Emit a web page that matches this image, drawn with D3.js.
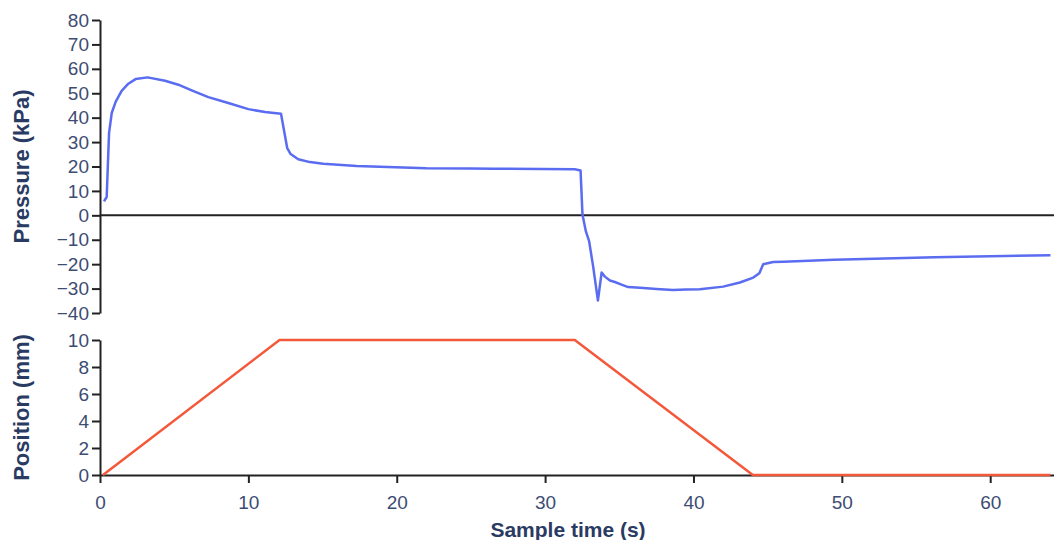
<!DOCTYPE html>
<html>
<head>
<meta charset="utf-8">
<script src="https://cdn.jsdelivr.net/npm/d3@7"></script>
<style>
  html, body { margin: 0; padding: 0; background: #fff; }
  svg { display: block; font-family: "Liberation Sans", Arial, sans-serif; }
</style>
</head>
<body>
<svg id="chart" width="1054" height="540"></svg>
<script>
// ---- data ----
const pressureTime = [0.27, 0.45, 0.61, 0.79, 1.06, 1.46, 1.91, 2.4, 3.21, 4.38, 5.28, 6.18, 7.3, 8.65, 10.0, 11.12, 12.2,
  12.62, 12.85, 13.36, 14.15, 15.05, 17.3, 20.44, 22.0, 24.9, 26.5, 32.0, 32.39,
  32.52, 32.75, 32.97, 33.24, 33.56, 33.81, 34.03, 34.37, 34.7, 35.15, 35.6, 36.39, 37.51, 38.63, 39.5, 40.43,
  42.0, 43.13, 44.03, 44.44, 44.7, 45.37, 46.08, 49.47, 56.26, 64.06];
const pressureKPa = [5.7, 7.5, 33.7, 41.9, 46.6, 51.0, 53.9, 55.8, 56.5, 55.1, 53.5, 51.2, 48.4, 46.0, 43.5, 42.3, 41.6,
  27.5, 25.1, 23.0, 21.8, 21.1, 20.2, 19.6, 19.3, 19.2, 19.1, 18.9, 18.4,
  0.2, -6.6, -10.7, -21.0, -34.9, -23.4, -25.1, -26.7, -27.3, -28.4, -29.4, -29.7, -30.2, -30.6, -30.4, -30.3,
  -29.2, -27.5, -25.5, -23.7, -20.0, -19.1, -19.0, -18.2, -17.2, -16.3];

const positionTime = [0.2, 12.1, 32.0, 44.0, 64.06];
const positionMM   = [0, 10, 10, 0, 0];

const pressureTicks = [-40, -30, -20, -10, 0, 10, 20, 30, 40, 50, 60, 70, 80];
const positionTicks = [0, 2, 4, 6, 8, 10];
const timeTicks = [0, 10, 20, 30, 40, 50, 60];

// ---- layout ----
const svg = d3.select("#chart");
const tickColor = "#3d4c72";
const titleColor = "#2a3b63";
const axisColor = "#222";

const x = d3.scaleLinear().domain([0, 64.3]).range([100, 1054]);
const yP = d3.scaleLinear().domain([-40, 80]).range([313, 20]);
const yS = d3.scaleLinear().domain([0, 10]).range([475, 340]);

function styleAxis(g) {
  g.attr("font-size", null).attr("font-family", null);
  g.selectAll("path.domain").attr("stroke", axisColor).attr("stroke-width", 2);
  g.selectAll(".tick line").attr("stroke", axisColor).attr("stroke-width", 2);
  g.selectAll(".tick text").attr("fill", tickColor).style("font-size", "19px")
    .style("font-family", "'Liberation Sans', Arial, sans-serif");
}

// top panel y axis
svg.append("g").attr("transform", "translate(100,0)")
  .call(d3.axisLeft(yP).tickValues(pressureTicks).tickSize(8).tickPadding(3).tickSizeOuter(0).tickFormat(d3.format("d")))
  .call(styleAxis);

// zero line in top panel
svg.append("line")
  .attr("x1", x(0)).attr("x2", x.range()[1])
  .attr("y1", yP(0)).attr("y2", yP(0))
  .attr("stroke", axisColor).attr("stroke-width", 2);

// bottom panel axes
svg.append("g").attr("transform", "translate(100,0)")
  .call(d3.axisLeft(yS).tickValues(positionTicks).tickSize(8).tickPadding(3).tickSizeOuter(0))
  .call(styleAxis);

svg.append("g").attr("transform", `translate(0,${yS(0)})`)
  .call(d3.axisBottom(x).tickValues(timeTicks).tickSize(8).tickSizeOuter(0).tickPadding(13))
  .call(styleAxis);

// lines
const pData = pressureTime.map((t, i) => [t, pressureKPa[i]]);
const sData = positionTime.map((t, i) => [t, positionMM[i]]);

svg.append("path").datum(pData)
  .attr("fill", "none").attr("stroke", "#5a6cf0").attr("stroke-width", 2.5)
  .attr("stroke-linejoin", "round")
  .attr("d", d3.line().x(d => x(d[0])).y(d => yP(d[1])));

svg.append("path").datum(sData)
  .attr("fill", "none").attr("stroke", "#f4583a").attr("stroke-width", 2.5)
  .attr("d", d3.line().x(d => x(d[0])).y(d => yS(d[1])));

// titles
svg.append("text")
  .attr("transform", `translate(29,${(yP(80) + yP(-40)) / 2}) rotate(-90)`)
  .attr("text-anchor", "middle")
  .attr("fill", titleColor).style("font-size", "22px").style("font-weight", "bold")
  .text("Pressure (kPa)");

svg.append("text")
  .attr("transform", `translate(29,${(yS(0) + yS(10)) / 2}) rotate(-90)`)
  .attr("text-anchor", "middle")
  .attr("fill", titleColor).style("font-size", "22px").style("font-weight", "bold")
  .text("Position (mm)");

svg.append("text")
  .attr("x", 568).attr("y", 537)
  .attr("text-anchor", "middle")
  .attr("fill", titleColor).style("font-size", "21px").style("font-weight", "bold")
  .text("Sample time (s)");
</script>
</body>
</html>
